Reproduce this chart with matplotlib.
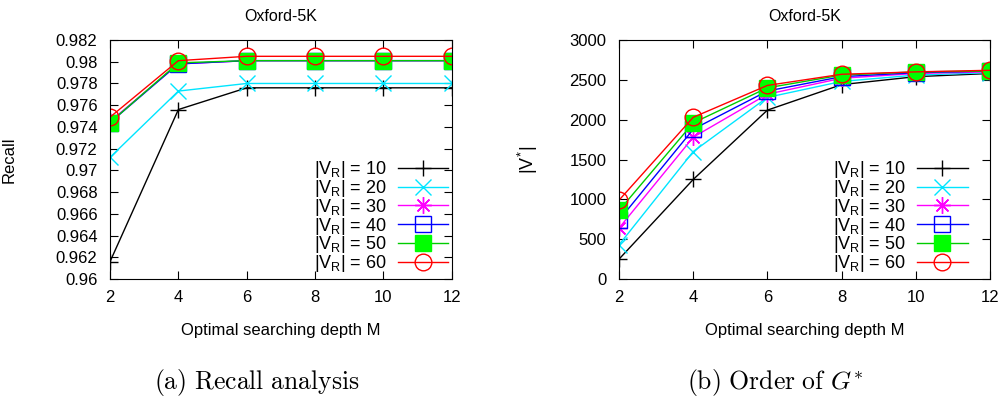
import matplotlib
matplotlib.use('Agg')
import matplotlib.pyplot as plt

plt.rcParams['font.family'] = ['Liberation Sans', 'DejaVu Sans']
plt.rcParams['mathtext.fontset'] = 'custom'
plt.rcParams['mathtext.rm'] = 'Liberation Sans'
plt.rcParams['mathtext.it'] = 'Liberation Sans'

# data
depth = [2, 4, 6, 8, 10, 12]
vr_sizes = [10, 20, 30, 40, 50, 60]

recall_10 = [0.9616, 0.9756, 0.9776, 0.9776, 0.9776, 0.9776]
recall_20 = [0.9712, 0.9773, 0.9780, 0.9780, 0.9780, 0.9780]
recall_30 = [0.9745, 0.9798, 0.9801, 0.9801, 0.9801, 0.9801]
recall_40 = [0.9744, 0.9798, 0.9801, 0.9801, 0.9801, 0.9801]
recall_50 = [0.9744, 0.9799, 0.9801, 0.9801, 0.9801, 0.9801]
recall_60 = [0.9749, 0.9801, 0.9805, 0.9805, 0.9805, 0.9805]

order_10 = [250, 1250, 2120, 2440, 2540, 2580]
order_20 = [430, 1600, 2280, 2480, 2560, 2590]
order_30 = [640, 1780, 2320, 2520, 2580, 2600]
order_40 = [740, 1880, 2360, 2540, 2590, 2610]
order_50 = [860, 1960, 2400, 2560, 2600, 2610]
order_60 = [990, 2030, 2430, 2570, 2600, 2620]

recall = [recall_10, recall_20, recall_30, recall_40, recall_50, recall_60]
order = [order_10, order_20, order_30, order_40, order_50, order_60]

colors = ['black', '#00e5ff', '#ff00ff', '#0000ff', '#00cc00', '#ff0000']
styles = [
    dict(marker='+', markersize=11, markeredgewidth=1),
    dict(marker='x', markersize=11, markeredgewidth=1),
    dict(marker=(8, 2, 0), markersize=12, markeredgewidth=1),
    dict(marker='s', markersize=11, markerfacecolor='none', markeredgewidth=1),
    dict(marker='s', markersize=11, markerfacecolor='#00ff00', markeredgecolor='#00ff00'),
    dict(marker='o', markersize=12, markerfacecolor='none', markeredgewidth=1),
]

fig = plt.figure(figsize=(10.05, 4.03), dpi=100)
ax1 = fig.add_axes([0.1095, 0.3077, 0.340, 0.593])
ax2 = fig.add_axes([0.616, 0.3077, 0.369, 0.593])


def draw(ax, series, anchor):
    for s, vr, c, st in zip(series, vr_sizes, colors, styles):
        ax.plot(depth, s, color=c, lw=1, label=r'$|V_R|$ = %d' % vr, **st)
    ax.set_xlim(2, 12)
    ax.set_xticks(depth)
    ax.tick_params(direction='in', top=True, right=True, labelsize=12, length=6)
    ax.tick_params(axis='x', pad=8)
    ax.tick_params(axis='y', pad=9)
    ax.set_title('Oxford-5K', fontsize=11.5, pad=14)
    ax.set_xlabel('Optimal searching depth M', fontsize=12)
    ax.xaxis.set_label_coords(0.5, -0.185)
    ax.legend(loc='lower right', bbox_to_anchor=anchor, frameon=False,
              markerfirst=False, fontsize=13, handlelength=2.8,
              labelspacing=-0.12, borderaxespad=0.0, borderpad=0.0,
              handletextpad=0.6)


draw(ax1, recall, (0.99, 0.02))
ax1.set_ylim(0.96, 0.982)
ax1.set_yticks([0.96 + 0.002 * i for i in range(12)])
ax1.set_yticklabels(['%g' % round(0.96 + 0.002 * i, 3) for i in range(12)])
ax1.set_ylabel('Recall', fontsize=12)
ax1.yaxis.set_label_coords(-0.272, 0.5)

draw(ax2, order, (0.94, 0.02))
ax2.set_ylim(0, 3000)
ax2.set_yticks(range(0, 3001, 500))
ax2.set_ylabel(r'$|V^{*}|$', fontsize=13)
ax2.yaxis.set_label_coords(-0.213, 0.5)

fig.text(0.256, 0.035, r'$\mathrm{(a)\ Recall\ analysis}$', ha='center',
         va='baseline', fontsize=18.5, math_fontfamily='cm')
fig.text(0.771, 0.035, r'$\mathrm{(b)\ Order\ of\ }G^{*}$', ha='center',
         va='baseline', fontsize=18.5, math_fontfamily='cm')

fig.savefig('out.png', dpi=100)
